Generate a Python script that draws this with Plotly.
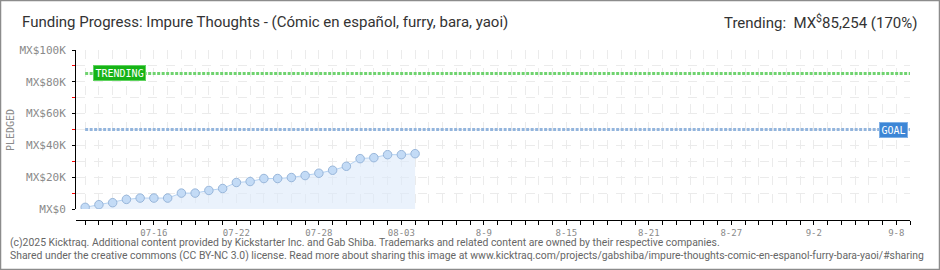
import plotly.graph_objects as go
import pandas as pd

# ---- data ----
dates = pd.date_range("2025-07-11", periods=25, freq="D")
pledged = [1040, 2710, 3960, 6040, 6875, 6875, 6875, 10000, 10000, 11670,
           12900, 16670, 17290, 19170, 19170, 19790, 21040, 22500, 24375,
           26875, 31670, 32290, 34170, 34170, 34790]
goal = 50000
trending = 85254
x_tick_vals = ["2025-07-16", "2025-07-22", "2025-07-28", "2025-08-03", "2025-08-09",
               "2025-08-15", "2025-08-21", "2025-08-27", "2025-09-02", "2025-09-08"]
x_tick_text = ["07-16", "07-22", "07-28", "08-03", "8-9", "8-15", "8-21", "8-27", "9-2", "9-8"]
y_tick_vals = [0, 20000, 40000, 60000, 80000, 100000]
y_tick_text = ["MX$0", "MX$20K", "MX$40K", "MX$60K", "MX$80K", "MX$100K"]
x_range = ["2025-07-10 08:00", "2025-09-09 00:00"]

W, H = 940, 270
L, R, T, B = 76, 30, 50, 50
PW, PH = W - L - R, H - T - B


def px(xp):
    return (xp - L) / PW


def py(yp):
    return (H - B - yp) / PH


PIX = "DejaVu Sans Mono"
TXT = "Roboto"
GRID = "#ebebeb"

fig = go.Figure()

# goal and trending lines
fig.add_trace(go.Scatter(x=[dates[0], x_range[1]], y=[trending, trending], mode="lines",
                         line=dict(color="#6fd36f", width=3, dash="3px,1.5px"),
                         hoverinfo="skip", showlegend=False))
fig.add_trace(go.Scatter(x=[dates[0], x_range[1]], y=[goal, goal], mode="lines",
                         line=dict(color="#93b5dd", width=3, dash="3px,1.5px"),
                         hoverinfo="skip", showlegend=False))

# pledged series
fig.add_trace(go.Scatter(x=dates, y=pledged, mode="lines+markers",
                         line=dict(color="#b5d2f2", width=1),
                         fill="tozeroy", fillcolor="rgba(220,234,250,0.6)",
                         marker=dict(size=8.5, color="#c3dbf6",
                                     line=dict(color="#98b6da", width=1)),
                         showlegend=False))

fig.update_layout(
    width=W, height=H,
    margin=dict(l=L, r=R, t=T, b=B),
    paper_bgcolor="white", plot_bgcolor="white",
    xaxis=dict(
        type="date", range=x_range,
        anchor="free", position=0,
        tickvals=x_tick_vals, ticktext=x_tick_text,
        ticks="outside", ticklen=4, tickcolor="black",
        showline=True, linecolor="black", linewidth=1,
        showgrid=True, gridcolor=GRID, griddash="dash",
        minor=dict(dtick=86400000, tick0="2025-07-11", ticks="outside", ticklen=4,
                   tickcolor="black", showgrid=True, gridcolor=GRID, griddash="dash"),
        tickfont=dict(family=PIX, size=9, color="#8a8a8a"),
        zeroline=False,
    ),
    yaxis=dict(
        domain=[11 / PH, 1], range=[0, 100000],
        tickvals=y_tick_vals, ticktext=y_tick_text,
        ticks="outside", ticklen=3, tickcolor="black",
        showline=True, linecolor="black", linewidth=1,
        showgrid=True, gridcolor=GRID, griddash="dash",
        minor=dict(dtick=10000, ticks="outside", ticklen=3, tickcolor="red",
                   showgrid=True, gridcolor=GRID, griddash="dash"),
        tickfont=dict(family=PIX, size=11, color="#8a8a8a"),
        ticklabelstandoff=4,
        zeroline=False,
    ),
    font=dict(family=TXT),
)

anns = [
    dict(x=px(20), y=py(22), xref="paper", yref="paper", xanchor="left", yanchor="middle",
         text="Funding Progress: Impure Thoughts - (Cómic en español, furry, bara, yaoi)",
         showarrow=False, font=dict(family=TXT, size=15, color="#333")),
    dict(x=px(919), y=py(22), xref="paper", yref="paper", xanchor="right", yanchor="middle",
         text="Trending:  MX<sup>$</sup>85,254 (170%)",
         showarrow=False, font=dict(family=TXT, size=15, color="#333")),
    dict(x=px(10), y=py(130), xref="paper", yref="paper", xanchor="center", yanchor="middle",
         text="PLEDGED", textangle=-90, showarrow=False,
         font=dict(family=PIX, size=10, color="#8a8a8a")),
    dict(x=px(93), y=trending, xref="paper", yref="y", xanchor="left", yanchor="middle",
         text="TRENDING", showarrow=False, bgcolor="#16b316", bordercolor="#5fd35f",
         borderwidth=1, borderpad=1.5, font=dict(family=PIX, size=10, color="white")),
    dict(x=px(908), y=goal, xref="paper", yref="y", xanchor="right", yanchor="middle",
         text="GOAL", showarrow=False, bgcolor="#3d86d6", bordercolor="#7fb0e6",
         borderwidth=1, borderpad=1.5, font=dict(family=PIX, size=10, color="white")),
    dict(x=px(8), y=py(242), xref="paper", yref="paper", xanchor="left", yanchor="middle",
         text="(c)2025 Kicktraq. Additional content provided by Kickstarter Inc. and Gab Shiba. Trademarks and related content are owned by their respective companies.",
         showarrow=False, font=dict(family=TXT, size=10.4, color="#666")),
    dict(x=px(8), y=py(256), xref="paper", yref="paper", xanchor="left", yanchor="middle",
         text="Shared under the creative commons (CC BY-NC 3.0) license. Read more about sharing this image at www.kicktraq.com/projects/gabshiba/impure-thoughts-comic-en-espanol-furry-bara-yaoi/#sharing",
         showarrow=False, font=dict(family=TXT, size=10.4, color="#666")),
]
fig.update_layout(annotations=anns)

fig.add_shape(type="rect", xref="paper", yref="paper",
              x0=px(0.5), x1=px(939.5), y0=py(269.5), y1=py(0.5),
              line=dict(color="#8c8c8c", width=1.5), fillcolor="rgba(0,0,0,0)", layer="above")

fig.write_html("out.html", config={"displayModeBar": False},
               post_script="document.body.style.margin='0';document.body.style.overflow='hidden';")
